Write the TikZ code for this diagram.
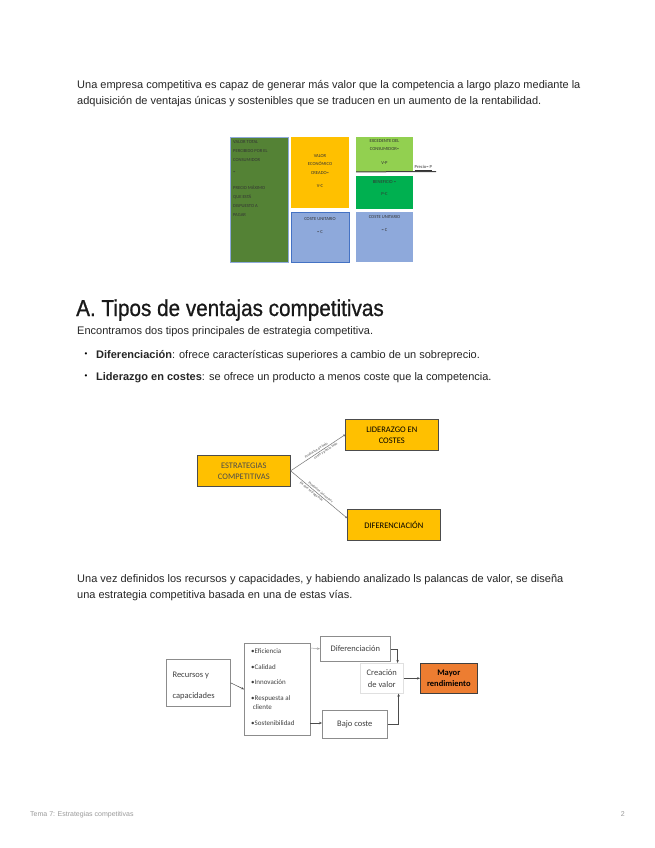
\documentclass[tikz,border=0pt]{standalone}
\usepackage{fontspec}
\setmainfont{Liberation Sans}
\newfontfamily\bodyf{Liberation Sans}
\newfontfamily\headf[FakeStretch=0.9,FakeBold=0.8]{Liberation Sans}
\newfontfamily\diagf{Carlito}
\usetikzlibrary{arrows.meta,positioning}
\definecolor{ygold}{HTML}{FFC000}
\definecolor{dgreen}{HTML}{548235}
\definecolor{lgreen}{HTML}{92D050}
\definecolor{mgreen}{HTML}{00B050}
\definecolor{lblue}{HTML}{8EA9DB}
\definecolor{bborder}{HTML}{4472C4}
\definecolor{orng}{HTML}{ED7D31}
\definecolor{foot}{HTML}{9A9A9A}
\tikzset{
  body/.style={anchor=base west,inner sep=0pt,font=\bodyf\fontsize{11}{13}\selectfont,text=black!85},
  cell/.style={draw=bborder!60,line width=0.4pt,inner sep=0pt,anchor=north west},
  tiny/.style={font=\diagf\fontsize{4.6}{8.5}\selectfont,align=center,text=black!80,inner sep=0pt},
  lab/.style={font=\diagf\fontsize{3.6}{4}\selectfont,text=black!70,inner sep=0.3pt,sloped},
  gbox/.style={draw=black!70,line width=0.6pt,fill=ygold,inner sep=0pt,anchor=north west},
  wbox/.style={draw=black!45,line width=0.6pt,fill=white,inner sep=0pt,anchor=north west},
  conn/.style={draw=black!70,line width=0.5pt},
  arr/.style={conn,-{Stealth[length=3pt,width=2.5pt]}},
}
\begin{document}
\begin{tikzpicture}[x=1pt,y=-1pt]
\useasboundingbox[fill=white] (0,0) rectangle (655,848);
% paragraph 1
\node[body] (p1a) at (77,89) {Una empresa competitiva es capaz de generar más valor que la competencia a largo plazo mediante la};
\node[body] (p1b) at (77,105) {adquisición de ventajas únicas y sostenibles que se traducen en un aumento de la rentabilidad.};
% diagram 1
\node[cell,fill=dgreen,minimum width=58pt,minimum height=125pt] (c1) at (230,137) {};
\node[tiny,anchor=north west,align=left,font=\diagf\fontsize{4.6}{9}\selectfont] (t1) at (233,140) {VALOR TOTAL\\PERCIBIDO POR EL\\CONSUMIDOR\\[3pt]=\\[7pt]PRECIO MÁXIMO\\QUE ESTÁ\\DISPUESTO A\\PAGAR};
\node[cell,fill=ygold,draw=none,minimum width=58pt,minimum height=71pt] (c2) at (291,137) {};
\node[tiny,anchor=north] (t2) at (320,154) {VALOR\\ECONÓMICO\\CREADO=\\[5pt]V-C};
\node[cell,fill=lblue,draw=bborder,minimum width=58pt,minimum height=50pt] (c3) at (291,212) {};
\node[tiny,anchor=north] (t3) at (320,217) {COSTE UNITARIO\\[5pt]= C};
\node[cell,fill=lgreen,draw=none,minimum width=57pt,minimum height=35pt] (c4) at (356,137) {};
\node[tiny,anchor=north] (t4) at (384.5,139) {EXCEDENTE DEL\\CONSUMIDOR=\\[5pt]V-P};
\node[cell,fill=mgreen,draw=none,minimum width=57pt,minimum height=33pt] (c5) at (356,176) {};
\node[tiny,anchor=north] (t5) at (384.5,180) {BENEFICIO =\\[4pt]P-C};
\node[cell,fill=lblue,draw=none,minimum width=57pt,minimum height=50pt] (c6) at (356,212) {};
\node[tiny,anchor=north] (t6) at (384.5,215) {COSTE UNITARIO\\[5pt]= C};
\coordinate (pl) at (436,171.5);
\draw[black!75,line width=1pt] ([yshift=0.5pt]c4.south west) -- (pl);
\node[tiny,anchor=south west,inner sep=0.5pt] (pp) at (414,171) {\underline{Precio= P}};
% heading
\node[anchor=base west,inner sep=0pt,font=\headf\fontsize{23}{26}\selectfont,text=black!90] (h) at (76,316) {A. Tipos de ventajas competitivas};
\node[body] (p2) at (77,334) {Encontramos dos tipos principales de estrategia competitiva.};
\node[anchor=center,inner sep=0pt,font=\fontsize{8}{8}\selectfont] (b1) at (86,355) {•};
\node[body] (l1) at (96,358.5) {\textbf{Diferenciación}: ofrece características superiores a cambio de un sobreprecio.};
\node[anchor=center,inner sep=0pt,font=\fontsize{8}{8}\selectfont] (b2) at (86,377) {•};
\node[body] (l2) at (96,380.5) {\textbf{Liderazgo en costes}: se ofrece un producto a menos coste que la competencia.};
% diagram 2
\node[gbox,minimum width=93pt,minimum height=31pt] (es) at (197,455) {};
\node[font=\diagf\fontsize{8.5}{11}\selectfont,align=center,text=black!70] at (es.center) {ESTRATEGIAS\\COMPETITIVAS};
\node[gbox,minimum width=93pt,minimum height=31pt] (lc) at (345,419) {};
\node[font=\diagf\fontsize{8.5}{11}\selectfont,align=center] at (lc.center) {LIDERAZGO EN\\COSTES};
\node[gbox,minimum width=93pt,minimum height=31pt] (df) at (347,509) {};
\node[font=\diagf\fontsize{8.5}{11}\selectfont] at (df.center) {DIFERENCIACIÓN};
\draw[conn,black!55,-{Circle[length=2pt]}] (es.east) -- (lc.west)
  node[pos=0.5,lab,above=0.6pt] (lab1) {Productos de bajo}
  node[pos=0.62,lab,below=0.6pt] (lab1b) {coste y precio bajo};
\draw[conn,black!55,-{Circle[length=2pt]}] (es.east) -- ([yshift=-9pt]df.north west)
  node[pos=0.5,lab,above=0.6pt] (lab2) {Productos únicos por}
  node[pos=0.4,lab,below=0.6pt] (lab2b) {los que se paga más};
% paragraph 3
\node[body] (p3a) at (77,582) {Una vez definidos los recursos y capacidades, y habiendo analizado ls palancas de valor, se diseña};
\node[body] (p3b) at (77,598) {una estrategia competitiva basada en una de estas vías.};
% diagram 3
\begin{scope}[text=black!75]
\node[wbox,minimum width=64pt,minimum height=47pt] (rc) at (166,659) {};
\node[anchor=west,align=left,font=\diagf\fontsize{8.5}{21}\selectfont] at ([xshift=3pt,yshift=-3pt]rc.west) {Recursos y\\capacidades};
\node[wbox,minimum width=66pt,minimum height=92pt] (ls) at (244,643) {};
\node[anchor=north west,align=left,font=\diagf\fontsize{7}{9.5}\selectfont,inner sep=0pt] at (251,648.5) {•Eficiencia\\[6pt]•Calidad\\[6pt]•Innovación\\[6pt]•Respuesta al\\\ cliente\\[6pt]•Sostenibilidad};
\node[wbox,minimum width=70pt,minimum height=25pt] (di) at (320,636) {};
\node[font=\diagf\fontsize{8.5}{10}\selectfont] at (di.center) {Diferenciación};
\node[wbox,draw=black!12,minimum width=43pt,minimum height=30pt] (cv) at (360,663) {};
\node[align=center,font=\diagf\fontsize{8.5}{12}\selectfont] at (cv.center) {Creación\\de valor};
\node[wbox,fill=orng,draw=black!75,minimum width=57pt,minimum height=30pt] (mr) at (420,663) {};
\node[align=center,font=\diagf\bfseries\fontsize{8.5}{10.5}\selectfont,text=black] at (mr.center) {Mayor\\rendimiento};
\node[wbox,minimum width=65pt,minimum height=28pt] (bc) at (322,710) {};
\node[font=\diagf\fontsize{8.5}{10}\selectfont] at (bc.center) {Bajo coste};
\end{scope}
\coordinate (s1) at (310,723);
\coordinate (l1s) at (310,648);
\draw[arr] (rc.east) -- (ls.west);
\draw[arr,black!35] (l1s) -- (di.west);
\draw[arr] (s1) -- (s1 -| bc.west);
\draw[arr] (di.east) -| ([xshift=-6pt]cv.north east);
\draw[arr] (bc.east) -| ([xshift=-5pt]cv.south east);
\draw[arr] (cv.east) -- (mr.west);
% footer
\node[anchor=base west,inner sep=0pt,font=\fontsize{7}{8}\selectfont,text=foot] (ft) at (30,816) {Tema 7: Estrategias competitivas};
\node[anchor=base east,inner sep=0pt,font=\fontsize{7}{8}\selectfont,text=foot] (pg) at (625,816) {2};
\end{tikzpicture}
\end{document}
